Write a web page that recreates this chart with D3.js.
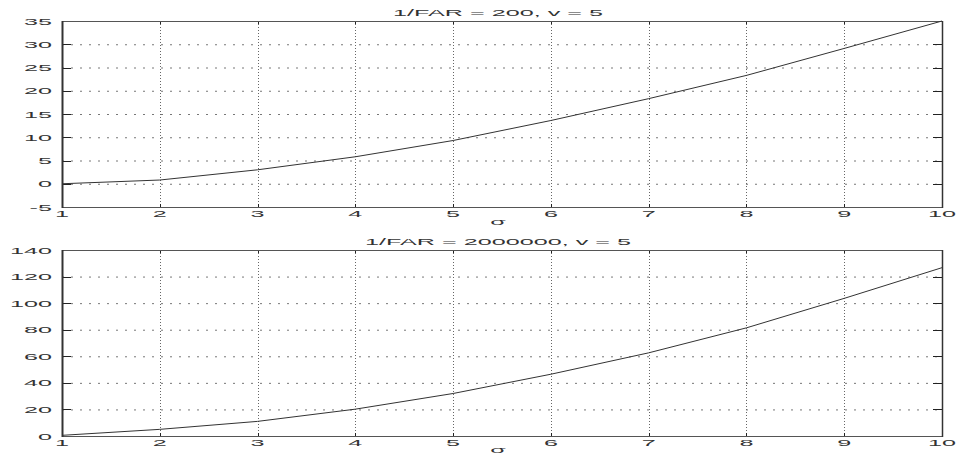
<!DOCTYPE html>
<html lang="en">
<head>
    <meta charset="UTF-8">
    <title>threshold vs sigma</title>
    <script src="https://d3js.org/d3.v7.min.js"></script>
    <style>
        body { margin: 0; background: #fff; }
        text { font-family: "Liberation Sans", Arial, sans-serif; font-size: 9px; fill: #333; }
    </style>
</head>
<body>
    <svg></svg>
    <script>
        const sigma = [1, 2, 3, 4, 5, 6, 7, 8, 9, 10];
        const far200 = [0, 0.8, 3.0, 5.8, 9.3, 13.6, 18.3, 23.3, 29.1, 35];
        const far2000000 = [0.5, 5, 11, 20.2, 32, 46.5, 62.6, 81.4, 103.6, 126.7];
        const xTicks = [1, 2, 3, 4, 5, 6, 7, 8, 9, 10];
        const yTicksTop = [-5, 0, 5, 10, 15, 20, 25, 30, 35];
        const yTicksBottom = [0, 20, 40, 60, 80, 100, 120, 140];
        const titles = ["1/FAR = 200, v = 5", "1/FAR = 2000000, v = 5"];

        const svgWidth = 961;
        const svgHeight = 455;
        const stretch = 2.8;   // the picture is squashed wide, so is the text

        const svg = d3.select('svg')
            .attr("width", svgWidth)
            .attr("height", svgHeight);

        const left = 62, right = 942;
        const panels = [
            {values: far200, yTicks: yTicksTop, top: 21, bottom: 207, title: titles[0], labelGap: 18},
            {values: far2000000, yTicks: yTicksBottom, top: 250, bottom: 436, title: titles[1], labelGap: 17}
        ];

        const x = d3.scaleLinear().domain([1, 10]).range([left, right]);

        function wideText(g, px, py, str, anchor) {
            return g.append("text")
                .attr("transform", `translate(${px},${py}) scale(${stretch},1)`)
                .attr("text-anchor", anchor)
                .text(str);
        }

        panels.forEach(p => {
            const y = d3.scaleLinear()
                .domain(d3.extent(p.yTicks))
                .range([p.bottom, p.top]);
            const g = svg.append("g");

            // grid
            g.selectAll(".hgrid")
                .data(p.yTicks.slice(1, -1))
                .enter().append("line")
                .attr("x1", left).attr("x2", right)
                .attr("y1", d => y(d) + 0.5).attr("y2", d => y(d) + 0.5)
                .attr("stroke", "#777")
                .attr("stroke-dasharray", "2,7");
            g.selectAll(".vgrid")
                .data(xTicks.slice(1, -1))
                .enter().append("line")
                .attr("x1", d => Math.round(x(d)) + 0.5).attr("x2", d => Math.round(x(d)) + 0.5)
                .attr("y1", p.top).attr("y2", p.bottom)
                .attr("stroke", "#666")
                .attr("stroke-dasharray", "1,2");

            // tick marks inside the box
            xTicks.forEach(t => {
                const xx = Math.round(x(t)) + 0.5;
                g.append("line").attr("x1", xx).attr("x2", xx)
                    .attr("y1", p.top).attr("y2", p.top + 3).attr("stroke", "#222");
                g.append("line").attr("x1", xx).attr("x2", xx)
                    .attr("y1", p.bottom - 3).attr("y2", p.bottom).attr("stroke", "#222");
            });
            p.yTicks.forEach(t => {
                const yy = Math.round(y(t)) + 0.5;
                g.append("line").attr("x1", left).attr("x2", left + 9)
                    .attr("y1", yy).attr("y2", yy).attr("stroke", "#222");
                g.append("line").attr("x1", right - 9).attr("x2", right)
                    .attr("y1", yy).attr("y2", yy).attr("stroke", "#222");
            });

            // box
            g.append("rect")
                .attr("x", left + 0.5).attr("y", p.top + 0.5)
                .attr("width", right - left).attr("height", p.bottom - p.top)
                .attr("fill", "none")
                .attr("stroke", "#555");
            g.append("line").attr("x1", left + 0.5).attr("x2", left + 0.5)
                .attr("y1", p.top).attr("y2", p.bottom + 1)
                .attr("stroke", "#333").attr("stroke-width", 2);
            g.append("line").attr("x1", right + 0.5).attr("x2", right + 0.5)
                .attr("y1", p.top).attr("y2", p.bottom + 1)
                .attr("stroke", "#333").attr("stroke-width", 1.5);

            // curve
            const line = d3.line()
                .x((d, i) => x(sigma[i]))
                .y(d => y(d));
            g.append("path")
                .datum(p.values)
                .attr("d", line)
                .attr("fill", "none")
                .attr("stroke", "#333")
                .attr("stroke-width", 1);

            // labels
            p.yTicks.forEach(t => wideText(g, 52, y(t) + 3.5, t, "end"));
            xTicks.forEach(t => wideText(g, x(t), p.bottom + 10, t, "middle"));
            wideText(g, (left + right) / 2 - 4, p.top - 5, p.title, "middle");
            wideText(g, (left + right) / 2 - 4, p.bottom + p.labelGap, "σ", "middle");
        });
    </script>
</body>
</html>
